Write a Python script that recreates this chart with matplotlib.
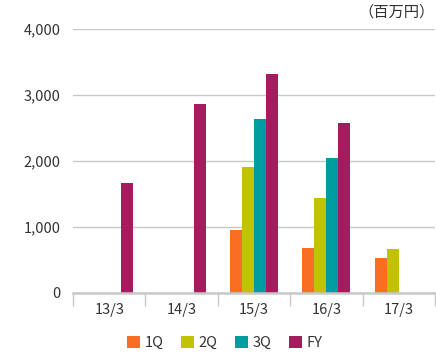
import numpy as np
import matplotlib
matplotlib.use("Agg")
import matplotlib.pyplot as plt
from matplotlib.patches import Patch

plt.rcParams['font.family'] = ['Noto Sans CJK JP', 'DejaVu Sans']

# data (百万円)
years = ["13/3", "14/3", "15/3", "16/3", "17/3"]
q1 = [0, 0, 955, 682, 530]
q2 = [0, 0, 1909, 1439, 667]
q3 = [0, 0, 2636, 2045, 0]
fy = [1667, 2864, 3318, 2576, 0]
series_names = ["1Q", "2Q", "3Q", "FY"]
colors = ["#F96E22", "#C2C200", "#009DA0", "#A51C5E"]

fig = plt.figure(figsize=(4.36, 3.6), dpi=100)
ax = fig.add_axes([73 / 436, 67 / 360, 362 / 436, 264 / 360])

x = np.arange(len(years))
w = 0.166
for i, vals in enumerate([q1, q2, q3, fy]):
    ax.bar(x + (i - 1.5) * w, vals, width=w, color=colors[i], zorder=3)

ax.set_xlim(-0.5, len(years) - 0.5)
ax.set_ylim(0, 4000)
ax.set_yticks([0, 1000, 2000, 3000, 4000])
ax.set_yticklabels(["0", "1,000", "2,000", "3,000", "4,000"])
ax.yaxis.grid(True, color="#c8c8c8", linewidth=1.0, zorder=0)
ax.tick_params(axis="y", length=0, pad=9, labelsize=10.5, labelcolor="#333333")

ax.set_xticks(x)
ax.set_xticklabels(years)
ax.tick_params(axis="x", which="major", length=0, pad=7, labelsize=10.5, labelcolor="#333333")
ax.set_xticks(np.arange(len(years) + 1) - 0.5, minor=True)
ax.tick_params(axis="x", which="minor", length=9, width=1, color="#c8c8c8", direction="out")

for s in ["top", "right", "left"]:
    ax.spines[s].set_visible(False)
ax.spines["bottom"].set_color("#c8c8c8")
ax.spines["bottom"].set_linewidth(1.8)
ax.spines["bottom"].set_zorder(4)

fig.text(435 / 436, 1 - 12 / 360, "（百万円）", ha="right", va="center",
         fontsize=11, color="#333333")

handles = [Patch(facecolor=c, edgecolor="none") for c in colors]
fig.legend(handles, series_names, loc="center", bbox_to_anchor=(225 / 436, 1 - 343 / 360),
           ncol=4, frameon=False, fontsize=10.5, handlelength=0.85, handleheight=0.85,
           handletextpad=0.35, columnspacing=1.2, labelcolor="#333333")

fig.savefig("out.png", dpi=100)
